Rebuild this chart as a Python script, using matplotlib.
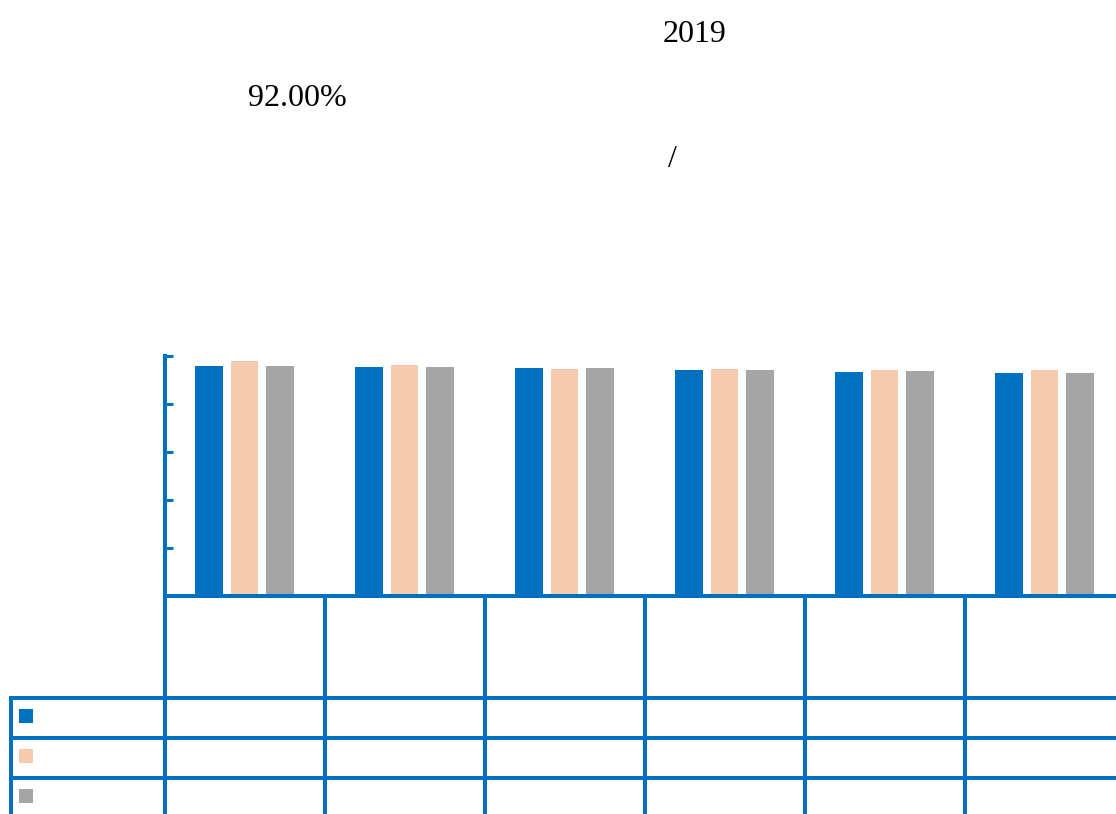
import matplotlib
matplotlib.use("Agg")
import matplotlib.pyplot as plt
from matplotlib.patches import Rectangle
import numpy as np

# ---- data ----
series_a = [0.958, 0.954, 0.951, 0.942, 0.935, 0.928]
series_b = [0.979, 0.964, 0.947, 0.945, 0.942, 0.943]
series_c = [0.960, 0.955, 0.950, 0.942, 0.936, 0.930]
y_ticks = [0.0, 0.2, 0.4, 0.6, 0.8, 1.0]
title_year = "2019"
note_value = "92.00%"
unit_sep = "/"

BLUE = "#0070C0"
PEACH = "#F6CAAC"
GRAY = "#A5A5A5"
colors = [BLUE, PEACH, GRAY]

W, H = 1116, 814
fig = plt.figure(figsize=(W / 100, H / 100), dpi=100)

# layout in pixels
x0, cat_w = 164.5, 160
n = len(series_a)
y_base, y_top = 596, 356
line_px = 4
lw = line_px * 72 / 100

def fx(px):
    return px / W

def fy(py):
    return 1 - py / H

ax = fig.add_axes([fx(x0), fy(y_base), fx(cat_w * n), (y_base - y_top) / H])
ax.set_xlim(0, n)
ax.set_ylim(0, 1)
ax.patch.set_alpha(0)

xs = np.arange(n) + 0.5
offset, width = 0.2225, 0.172
for i, (vals, c) in enumerate(zip([series_a, series_b, series_c], colors)):
    ax.bar(xs + (i - 1) * offset, vals, width=width, color=c, edgecolor="none", zorder=2)

for s in ["top", "right"]:
    ax.spines[s].set_visible(False)
for s in ["left", "bottom"]:
    ax.spines[s].set_color(BLUE)
    ax.spines[s].set_linewidth(lw)
    ax.spines[s].set_zorder(3)
ax.set_yticks(y_ticks)
ax.set_yticklabels([])
ax.set_xticks([])
ax.tick_params(axis="y", direction="in", length=8 * 0.72, width=3 * 0.72, color=BLUE)

# overlay in pixel coordinates for the data table grid and titles
ov = fig.add_axes([0, 0, 1, 1])
ov.set_xlim(0, W)
ov.set_ylim(H, 0)
ov.axis("off")
ov.patch.set_alpha(0)

row_lines = [697.5, 737.5, 777.5]
# category dividers
for k in range(n):
    xk = x0 + k * cat_w
    ov.plot([xk, xk], [y_base, H], color=BLUE, lw=lw, solid_capstyle="butt")
# table rows
for ry in row_lines:
    ov.plot([10, W], [ry, ry], color=BLUE, lw=lw, solid_capstyle="butt")
ov.plot([11, 11], [row_lines[0] - 2, H], color=BLUE, lw=lw, solid_capstyle="butt")

# legend keys in the table rows
for ry, c in zip(row_lines, colors):
    ov.add_patch(Rectangle((19, ry + 11.5), 14, 14, facecolor=c, edgecolor="none"))

font = dict(family="Liberation Serif", size=23, color="black", va="baseline", ha="left")
ov.text(663, 42, title_year, **font)
ov.text(248, 106, note_value, **font)
ov.text(668, 167, unit_sep, **font)

fig.savefig("out.png", dpi=100)
